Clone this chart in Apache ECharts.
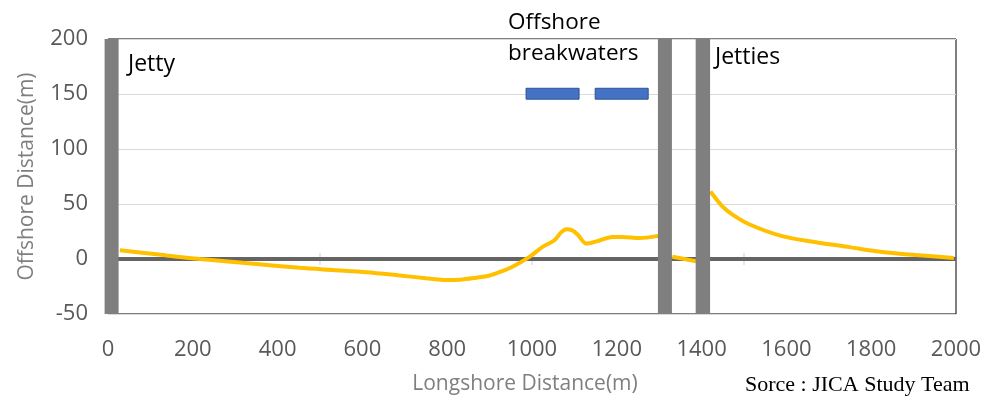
<!DOCTYPE html>
<html>
<head>
<meta charset="utf-8">
<style>
html,body{margin:0;padding:0;background:#fff;}
#chart{width:987px;height:400px;}
</style>
<script src="https://cdn.jsdelivr.net/npm/echarts@6/dist/echarts.min.js"></script>
</head>
<body>
<div id="chart"></div>
<script>
// Shoreline segments [longshore m, offshore m]
const shoreWest = [[28,8],[120,4],[217,0],[350,-4.5],[452,-8],[530,-10],[610,-12],[688,-15],[750,-17.5],[790,-19],[830,-18.8],[869,-17],[900,-15],[923,-12],[954,-7],[994,2],[1025,11],[1053,17],[1068,24],[1081,27],[1095,26],[1108,22],[1128,14],[1152,16],[1190,20],[1213,20],[1253,19],[1298,21]];
const shoreMiddle = [[1331,2],[1360,0],[1387,-2]];
const shoreEast = [[1421,61.4],[1449,47.8],[1472,40.6],[1512,31.6],[1590,20.8],[1670,15.3],[1748,10.8],[1826,6.3],[1905,3.6],[1995,0.9]];
// Structures: [x start, x end, y bottom, y top]
const jetties = [[-8,25,-50,200],[1297,1330,-50,200],[1386,1420,-50,200]];
const breakwaters = [[986,1111,145.3,155.2],[1149,1274,145.3,155.2]];
const zeroLine = [[0,0],[2000,0]];
const zeroTicks = [[500,0],[1000,0],[1500,0]];
const xTicks = [0,200,400,600,800,1000,1200,1400,1600,1800,2000];
const yTicks = [-50,0,50,100,150,200];

const chart = echarts.init(document.getElementById('chart'));
const FONT = 'Open Sans';

function rectItem(fill, stroke, lw) {
  return function (params, api) {
    const p1 = api.coord([api.value(0), api.value(3)]);
    const p2 = api.coord([api.value(1), api.value(2)]);
    return {
      type: 'rect',
      shape: {x: p1[0], y: p1[1], width: p2[0] - p1[0], height: p2[1] - p1[1]},
      style: {fill: fill, stroke: stroke, lineWidth: lw}
    };
  };
}

const shoreStyle = {
  type: 'line', smooth: 0.3, symbol: 'none', z: 4,
  lineStyle: {color: '#FFC000', width: 4}
};

chart.setOption({
  animation: false,
  grid: {left: 108, right: 31, top: 39, bottom: 84, show: true, borderColor: '#000', borderWidth: 1, backgroundColor: 'transparent'},
  xAxis: {
    type: 'value', min: xTicks[0], max: xTicks[xTicks.length-1], interval: 200,
    axisLine: {show: false}, axisTick: {show: false}, splitLine: {show: false},
    axisLabel: {color: '#595959', fontFamily: FONT, fontSize: 22, margin: 25, formatter: v => String(v)},
    name: 'Longshore Distance(m)', nameLocation: 'middle', nameGap: 60,
    nameTextStyle: {color: '#7f7f7f', fontFamily: FONT, fontSize: 21, padding: [0, 14, 0, 0]}
  },
  yAxis: {
    type: 'value', min: yTicks[0], max: yTicks[yTicks.length-1], interval: 50,
    axisLine: {show: false}, axisTick: {show: false},
    splitLine: {show: true, lineStyle: {color: '#d9d9d9', width: 1}},
    axisLabel: {color: '#595959', fontFamily: FONT, fontSize: 22, margin: 20, formatter: v => String(v)},
    name: 'Offshore Distance(m)', nameLocation: 'middle', nameGap: 70,
    nameTextStyle: {color: '#7f7f7f', fontFamily: FONT, fontSize: 21}
  },
  series: [
    {type: 'scatter', data: zeroTicks, symbol: 'rect', symbolSize: [1, 12], itemStyle: {color: '#c0c0c0'}, z: 2, silent: true},
    {type: 'line', data: zeroLine, symbol: 'none', lineStyle: {color: '#646464', width: 4}, z: 3},
    Object.assign({data: shoreWest}, shoreStyle),
    Object.assign({data: shoreMiddle}, shoreStyle),
    Object.assign({data: shoreEast}, shoreStyle),
    {type: 'custom', data: jetties, renderItem: rectItem('#7f7f7f', null, 0), clip: false, z: 6, encode: {x: [0,1], y: [2,3]}},
    {type: 'custom', data: breakwaters, renderItem: rectItem('#4472C4', '#2F528F', 1), clip: false, z: 7, encode: {x: [0,1], y: [2,3]}}
  ],
  graphic: [
    {type: 'text', left: 128, top: 53, style: {text: 'Jetty', fontFamily: FONT, fontSize: 23, fill: '#000'}},
    {type: 'text', left: 508, top: 11, style: {text: 'Offshore', fontFamily: FONT, fontSize: 22.5, fill: '#000'}},
    {type: 'text', left: 508, top: 42, style: {text: 'breakwaters', fontFamily: FONT, fontSize: 22.5, fill: '#000'}},
    {type: 'text', left: 715, top: 46, style: {text: 'Jetties', fontFamily: FONT, fontSize: 23, fill: '#000'}},
    {type: 'text', left: 745, top: 374, style: {text: 'Sorce : JICA Study Team', fontFamily: 'Liberation Serif', fontSize: 22, fill: '#000'}}
  ]
});
</script>
</body>
</html>
